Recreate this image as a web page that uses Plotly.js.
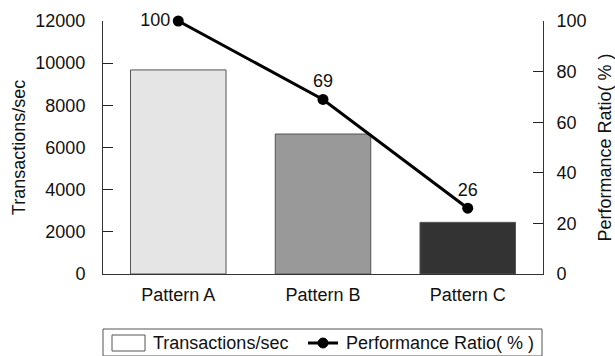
<!DOCTYPE html>
<html>
<head>
<meta charset="utf-8">
<script src="https://cdn.plot.ly/plotly-3.0.1.min.js"></script>
<style>html,body{margin:0;padding:0;background:#fff;}#chart{width:615px;height:356px;}</style>
</head>
<body>
<div id="chart"></div>
<script>
var categories = ['Pattern A', 'Pattern B', 'Pattern C'];
var transactions = [9680, 6640, 2450];
var ratio = [100, 69, 26];
var ratioLabels = ['100', '69', '26'];
var barColors = ['#e5e5e5', '#999999', '#333333'];
var seriesNames = ['Transactions/sec', 'Performance Ratio( % )'];
var leftTicks = [0, 2000, 4000, 6000, 8000, 10000, 12000];
var rightTicks = [0, 20, 40, 60, 80, 100];

var FONT = 'Liberation Sans, Arial, sans-serif';
var FS = 18;

// plot area in pixels: x 103..543, y 21..274
function px(x) { return (x - 103) / 440; }
function py(y) { return (274 - y) / 253; }

var traces = [
  {type: 'bar', name: seriesNames[0], x: categories, y: transactions, width: 0.66,
   marker: {color: barColors, line: {color: '#555555', width: 1}}, hoverinfo: 'skip', showlegend: false},
  {type: 'scatter', mode: 'lines+markers+text', name: seriesNames[1], x: categories, y: ratio, yaxis: 'y2',
   text: ratioLabels, textposition: ['middle left', 'top center', 'top center'],
   textfont: {family: FONT, size: FS, color: '#111'}, line: {color: '#000', width: 3},
   marker: {color: '#000', size: 11}, cliponaxis: false, hoverinfo: 'skip', showlegend: false}
];

// hand-built legend (layout decoration only)
var shapes = [
  {type: 'rect', xref: 'paper', yref: 'paper', x0: px(103), x1: px(542), y0: py(356), y1: py(329),
   line: {color: '#555', width: 1}, fillcolor: 'rgba(0,0,0,0)'},
  {type: 'rect', xref: 'paper', yref: 'paper', x0: px(112), x1: px(145), y0: py(351), y1: py(335),
   line: {color: '#555', width: 1}, fillcolor: '#ffffff'},
  {type: 'line', xref: 'paper', yref: 'paper', x0: px(308), x1: px(338), y0: py(343), y1: py(343),
   line: {color: '#000', width: 3}},
  {type: 'circle', xref: 'paper', yref: 'paper', x0: px(318), x1: px(328), y0: py(348), y1: py(338),
   line: {color: '#000', width: 1}, fillcolor: '#000'}
];

var annotations = [
  {xref: 'paper', yref: 'paper', x: px(151), y: py(343), xanchor: 'left', yanchor: 'middle',
   text: seriesNames[0], showarrow: false, font: {family: FONT, size: FS, color: '#111'}},
  {xref: 'paper', yref: 'paper', x: px(344), y: py(343), xanchor: 'left', yanchor: 'middle',
   text: seriesNames[1], showarrow: false, font: {family: FONT, size: FS, color: '#111'}}
];

var layout = {
  width: 615, height: 356,
  margin: {l: 103, r: 72, t: 21, b: 82},
  paper_bgcolor: '#fff', plot_bgcolor: '#fff',
  font: {family: FONT, size: FS, color: '#111'},
  showlegend: false, shapes: shapes, annotations: annotations,
  xaxis: {type: 'category', range: [-0.52, 2.52], automargin: false,
    showline: true, linecolor: '#333', linewidth: 1, ticks: '', showgrid: false, zeroline: false,
    ticklabelstandoff: 4, tickfont: {family: FONT, size: FS, color: '#111'}},
  yaxis: {range: [0, 12000], tickvals: leftTicks, tickformat: 'd', automargin: false,
    showline: true, linecolor: '#333', linewidth: 1,
    ticks: 'inside', ticklen: 10, tickwidth: 1.3, tickcolor: '#222',
    showgrid: false, zeroline: false, layer: 'above traces', ticklabelstandoff: 13,
    tickfont: {family: FONT, size: FS, color: '#111'},
    title: {text: seriesNames[0], font: {family: FONT, size: FS, color: '#111'}, standoff: 5}},
  yaxis2: {overlaying: 'y', side: 'right', automargin: false,
    range: [0, 100], tickvals: rightTicks,
    showline: true, linecolor: '#333', linewidth: 1,
    ticks: 'inside', ticklen: 10, tickwidth: 1.3, tickcolor: '#222',
    showgrid: false, zeroline: false, layer: 'above traces', ticklabelstandoff: 9,
    tickfont: {family: FONT, size: FS, color: '#111'},
    title: {text: seriesNames[1], font: {family: FONT, size: FS, color: '#111'}, standoff: 12}}
};

Plotly.newPlot('chart', traces, layout, {displayModeBar: false, staticPlot: true});
</script>
</body>
</html>
